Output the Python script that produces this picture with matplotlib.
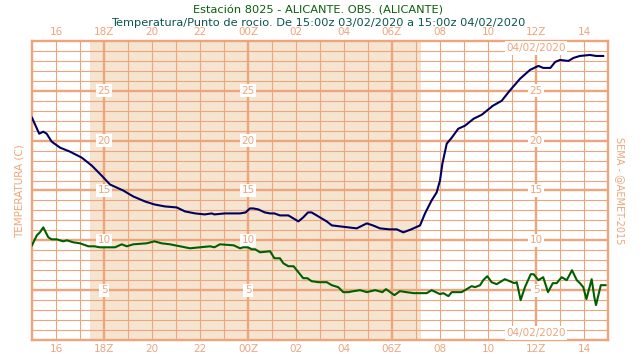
#!/usr/bin/env python3
"""Temperature / dew point chart, station 8025 Alicante."""
import matplotlib
matplotlib.use("Agg")
import matplotlib.pyplot as plt

# hours after 15:00z 03/02/2020
temp_hours = [0.0, 0.3, 0.47, 0.61, 0.82, 1.17, 1.58, 2.07, 2.49, 2.9, 3.25, 3.8, 4.22, 4.71,
              5.1, 5.54, 6.03, 6.375, 6.8, 7.2, 7.49, 7.6, 8.04, 8.39, 8.67, 8.9, 9.08, 9.22,
              9.43, 9.7, 9.92, 10.1, 10.33, 10.68, 11.1, 11.3, 11.5, 11.65, 11.93, 12.28,
              12.49, 12.83, 13.18, 13.53, 13.95, 14.2, 14.5, 14.9, 15.2, 15.47, 15.8, 16.17,
              16.375, 16.65, 16.86, 17.0, 17.1, 17.28, 17.49, 17.76, 18.04, 18.4, 18.74,
              19.05, 19.2, 19.57, 19.9, 20.33, 20.75, 21.1, 21.3, 21.6, 21.8, 22.0, 22.35,
              22.56, 22.83, 23.25, 23.5, 23.8]
temp_values = [22.3, 20.7, 20.9, 20.7, 19.9, 19.3, 18.9, 18.3, 17.5, 16.5, 15.6, 15.0, 14.4, 13.9,
               13.6, 13.4, 13.3, 12.9, 12.7, 12.6, 12.7, 12.6, 12.7, 12.7, 12.7, 12.8, 13.2, 13.2,
               13.1, 12.8, 12.7, 12.7, 12.5, 12.5, 11.9, 12.3, 12.8, 12.8, 12.4, 11.9,
               11.5, 11.4, 11.3, 11.2, 11.7, 11.5, 11.2, 11.1, 11.1, 10.8, 11.1, 11.5,
               12.7, 14.0, 14.8, 16.0, 17.7, 19.7, 20.3, 21.2, 21.5, 22.2, 22.6,
               23.2, 23.5, 24.0, 25.0, 26.2, 27.1, 27.5, 27.3, 27.3, 27.9, 28.1, 28.0,
               28.3, 28.5, 28.6, 28.5, 28.5]

dew_hours = [0.0, 0.2, 0.33, 0.47, 0.68, 0.82, 1.03, 1.3, 1.45, 1.72, 2.0, 2.35, 2.6, 2.83,
             3.46, 3.74, 3.95, 4.22, 4.78, 5.1, 5.4, 5.75, 6.17, 6.58, 7.0, 7.42, 7.6, 7.83,
             8.4, 8.67, 8.8, 9.0, 9.15, 9.3, 9.5, 9.92, 10.1, 10.33, 10.47, 10.68, 10.9,
             11.1, 11.3, 11.47, 11.65, 11.93, 12.28, 12.49, 12.76, 12.97, 13.18, 13.4,
             13.67, 13.95, 14.3, 14.6, 14.75, 15.1, 15.33, 15.6, 15.9, 16.17, 16.45, 16.65,
             17.0, 17.14, 17.35, 17.49, 17.9, 18.18, 18.32, 18.46, 18.67, 18.8, 18.97,
             19.15, 19.36, 19.7, 19.9, 20.1, 20.2, 20.36, 20.54, 20.78, 20.9, 21.1, 21.3,
             21.5, 21.7, 21.86, 22.07, 22.28, 22.5, 22.7, 22.83, 22.97, 23.1, 23.32, 23.43,
             23.5, 23.7, 23.9]
dew_values = [9.5, 10.5, 10.8, 11.3, 10.3, 10.1, 10.1, 9.9, 10.0, 9.8, 9.7, 9.4, 9.4, 9.3,
              9.3, 9.6, 9.4, 9.6, 9.7, 9.9, 9.7, 9.6, 9.4, 9.2, 9.3, 9.4, 9.3, 9.6,
              9.5, 9.2, 9.3, 9.3, 9.1, 9.1, 8.8, 8.9, 8.2, 8.2, 7.7, 7.4, 7.4,
              6.8, 6.2, 6.2, 5.9, 5.8, 5.8, 5.5, 5.3, 4.8, 4.8, 4.9,
              5.0, 4.8, 5.0, 4.8, 5.1, 4.5, 4.9, 4.8, 4.7, 4.7, 4.7, 5.0,
              4.6, 4.7, 4.4, 4.8, 4.8, 5.2, 5.4, 5.3, 5.5, 6.0, 6.4,
              5.8, 5.6, 6.1, 5.9, 5.7, 5.8, 4.0, 5.3, 6.6, 6.6, 6.0, 6.3,
              4.8, 5.7, 5.7, 6.3, 6.0, 7.0, 6.0, 5.7, 5.3, 4.1, 6.1, 4.3,
              3.5, 5.5, 5.5]

tick_hours = [1, 3, 5, 7, 9, 11, 13, 15, 17, 19, 21, 23]
tick_labels = ["16", "18Z", "20", "22", "00Z", "02", "04", "06Z", "08", "10", "12Z", "14"]
value_levels = [5, 10, 15, 20, 25]
value_columns = [3, 9, 21]
night_start, night_end = 2.42, 16.2

GRID = "#efa57c"
NIGHT = "#f5e5d0"


def main() -> int:
    fig = plt.figure(figsize=(6.4, 3.6), dpi=100)
    ax = fig.add_axes([0.05, 0.0556, 0.90, 0.8305])
    ax.set_xlim(0, 24)
    ax.set_ylim(0, 30)

    ax.axvspan(night_start, night_end, color=NIGHT, lw=0, zorder=0)

    # hourly / degree grid, heavier every 6 h and every 5 degrees
    for h in range(1, 24):
        ax.axvline(h, color=GRID, lw=1.7 if h % 6 == 3 else 0.8, zorder=1)
    for v in range(1, 30):
        ax.axhline(v, color=GRID, lw=1.7 if v % 5 == 0 else 0.8, zorder=1)

    for s in ax.spines.values():
        s.set_color(GRID)
        s.set_linewidth(1.7)

    ax.set_xticks(tick_hours)
    ax.set_xticklabels(tick_labels)
    ax.set_yticks([])
    ax.tick_params(axis="x", length=0, colors=GRID, labelsize=7.5, pad=3,
                   top=True, labeltop=True)

    for col in value_columns:
        for v in value_levels:
            ax.text(col, v, str(v), color=GRID, fontsize=7.5, ha="center", va="center",
                    zorder=3, bbox=dict(boxstyle="square,pad=0.15", fc="white", ec="none"))
    for y in (29.3, 0.7):
        ax.text(21, y, "04/02/2020", color=GRID, fontsize=7.5, ha="center", va="center",
                zorder=3, bbox=dict(boxstyle="square,pad=0.15", fc="white", ec="none"))

    ax.plot(temp_hours, temp_values, color="#000060", lw=1.5, zorder=4)
    ax.plot(dew_hours, dew_values, color="#006000", lw=1.5, zorder=4)

    fig.text(0.031, 0.47, "TEMPERATURA (C)", rotation=90, color=GRID, fontsize=7.5,
             ha="center", va="center")
    fig.text(0.969, 0.47, "SEMA - @AEMET-2015", rotation=270, color=GRID, fontsize=7,
             ha="center", va="center")
    fig.text(0.497, 0.972, "Estación 8025 - ALICANTE. OBS. (ALICANTE)", color="#0b5e0b",
             fontsize=8.2, ha="center", va="center")
    fig.text(0.497, 0.937,
             "Temperatura/Punto de rocio. De 15:00z 03/02/2020 a 15:00z 04/02/2020",
             color="#0c5450", fontsize=8.2, ha="center", va="center")

    fig.savefig("out.png", dpi=100)
    plt.close(fig)
    return 0


if __name__ == "__main__":
    raise SystemExit(main())
